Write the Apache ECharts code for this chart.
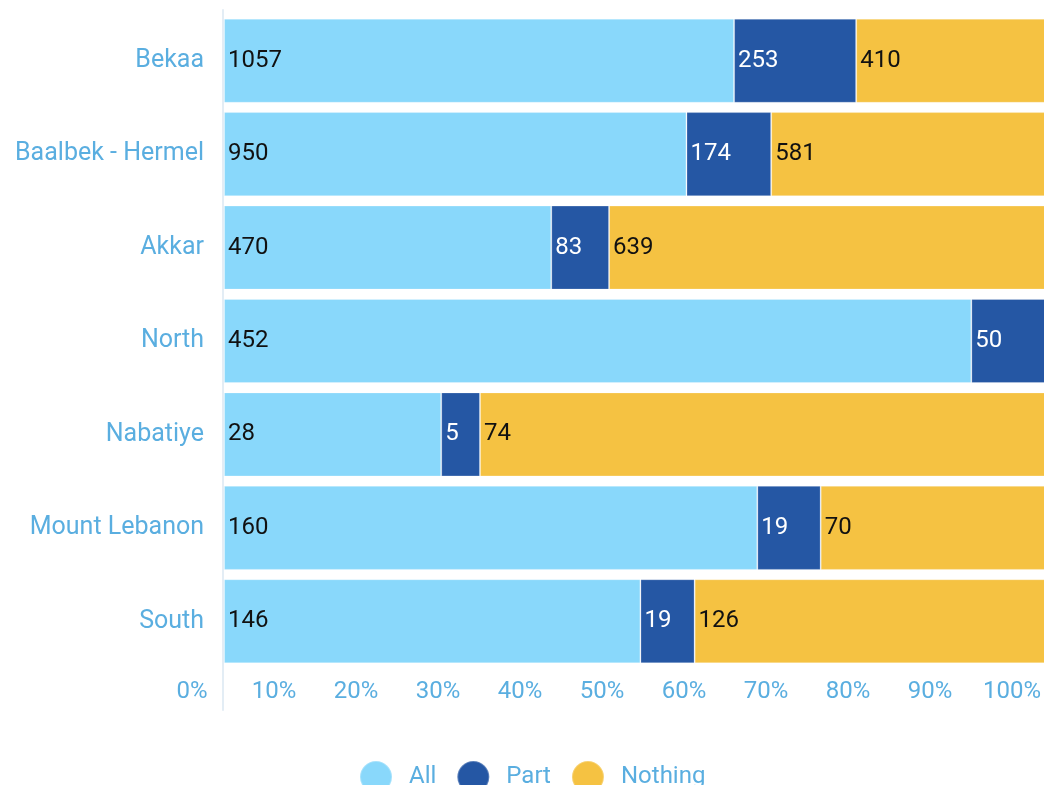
<!DOCTYPE html>
<html>
<head>
<meta charset="utf-8">
<script src="https://cdn.jsdelivr.net/npm/echarts@6/dist/echarts.min.js"></script>
<style>
  html, body { margin: 0; padding: 0; background: #fff; }
  #chart { width: 1044px; height: 785px; }
</style>
</head>
<body>
<div id="chart"></div>
<script>
// 地区
const regions = ['Bekaa', 'Baalbek - Hermel', 'Akkar', 'North', 'Nabatiye', 'Mount Lebanon', 'South']
// 原始数量
const allCounts = [1057, 950, 470, 452, 28, 160, 146]
const partCounts = [253, 174, 83, 50, 5, 19, 19]
const nothingCounts = [410, 581, 639, 0, 74, 70, 126]
const tickLabels = ['0%', '10%', '20%', '30%', '40%', '50%', '60%', '70%', '80%', '90%', '100%']

const labelBlue = '#5aaee0'

// 转成百分比
let totals = regions.map((r, i) => allCounts[i] + partCounts[i] + nothingCounts[i])
function toPercent(counts) {
    return counts.map((v, i) => ({ value: v / totals[i] * 100, count: v }))
}

function makeSeries(name, counts, color, textColor) {
    return {
        name: name,
        type: 'bar',
        stack: 'total',
        barCategoryGap: '10%',
        itemStyle: {
            color: color,
            borderColor: 'rgba(255,255,255,0.25)',
            borderWidth: 1
        },
        label: {
            show: true,
            position: 'insideLeft',
            distance: 4,
            color: textColor,
            fontSize: 24,
            fontFamily: 'Roboto',
            formatter: p => p.data.count > 0 ? p.data.count : ''
        },
        data: toPercent(counts)
    }
}

let chart = echarts.init(document.getElementById('chart'))
chart.setOption({
    animation: false,
    textStyle: { fontFamily: 'Roboto' },
    legend: {
        top: 755,
        left: 354,
        icon: 'circle',
        itemWidth: 32,
        itemHeight: 32,
        itemGap: 20,
        textStyle: { color: labelBlue, fontSize: 24, fontFamily: 'Roboto', padding: [0, 0, 0, 12] },
        data: ['All', 'Part', 'Nothing']
    },
    grid: [
        // 柱子
        { left: 224, width: 830, top: 14, height: 654, outerBoundsMode: 'none', containLabel: false },
        // 刻度文字和左侧竖线
        { left: 223, width: 820, top: 10, height: 700, outerBoundsMode: 'none', containLabel: false }
    ],
    xAxis: [{
        type: 'value',
        gridIndex: 0,
        min: 0,
        max: 100,
        interval: 10,
        axisLine: { show: false },
        axisTick: { show: false },
        splitLine: { show: false },
        axisLabel: { show: false }
    }, {
        type: 'value',
        gridIndex: 1,
        min: 0,
        max: 100,
        interval: 10,
        axisLine: { show: false },
        axisTick: { show: false },
        splitLine: { show: false },
        axisLabel: {
            color: labelBlue,
            fontSize: 24,
            margin: -30,
            padding: [0, 62, 0, 0],
            formatter: (v) => tickLabels[Math.round(v / 10)]
        }
    }],
    yAxis: [{
        type: 'category',
        gridIndex: 0,
        inverse: true,
        data: regions,
        axisLine: { show: false },
        axisTick: { show: false },
        axisLabel: {
            color: labelBlue,
            fontSize: 25,
            margin: 20
        }
    }, {
        type: 'value',
        gridIndex: 1,
        min: 0,
        max: 1,
        axisLine: { show: true, lineStyle: { color: '#e3edf5', width: 2 } },
        axisTick: { show: false },
        splitLine: { show: false },
        axisLabel: { show: false }
    }],
    series: [
        makeSeries('All', allCounts, '#89d8fb', '#111'),
        makeSeries('Part', partCounts, '#2557a4', '#fff'),
        makeSeries('Nothing', nothingCounts, '#f5c242', '#111')
    ]
})
</script>
</body>
</html>
